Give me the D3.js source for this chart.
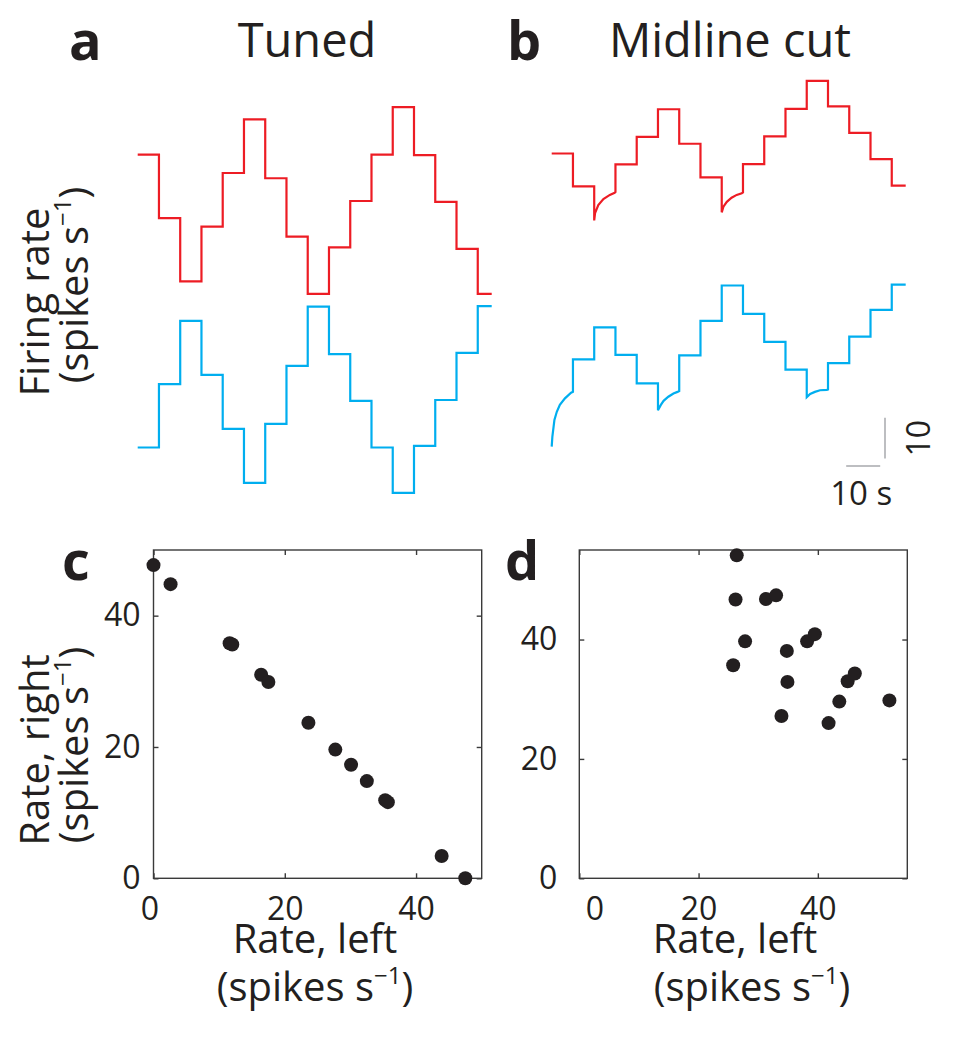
<!DOCTYPE html>
<html><head><meta charset="utf-8">
<script src="https://cdn.jsdelivr.net/npm/d3@7"></script>
<style>
body{margin:0;background:#fff}
svg{display:block}
text{font-family:"Open Sans","Noto Sans",sans-serif;fill:#231f20}
</style>
</head><body>
<svg id="chart" width="957" height="1050"></svg>
<script>
// ---------- data ----------
const stepTimes = [0, 6.25, 12.5, 18.75, 25, 31.25, 37.5, 43.75, 50, 56.25, 62.5, 68.75, 75, 81.25, 87.5, 93.75, 100];
const traceEnd = 104.1;
// panel a (tuned) step levels, spikes/s
const tunedRight = [34.8, 19.2, 3.6, 17.1, 30.3, 43.5, 29.0, 14.6, 0.5, 12.0, 23.4, 34.8, 46.5, 34.7, 23.2, 11.6, 0.5];
const tunedLeft  = [11.7, 27.3, 42.9, 29.6, 16.3, 3.0, 17.5, 31.8, 46.4, 34.7, 23.2, 11.7, 0.5, 12.1, 23.4, 35.0, 46.5];
// panel b (midline cut) step levels
const cutRight = [35.1, 27.0, 25.6, 32.4, 39.2, 46.0, 37.5, 29.2, 25.5, 32.5, 39.3, 46.1, 53.0, 46.7, 40.2, 33.7, 27.2];
const cutLeft  = [25.4, 33.4, 41.3, 34.5, 27.5, 25.6, 34.4, 42.9, 51.6, 44.6, 37.7, 30.9, 26.0, 32.5, 39.0, 45.6, 51.8];
// transient dips [time s, rate], keyed by step index
const cutRightDips = {
  2: [[12.5, 18.6], [12.75, 20.4], [13.7, 22.4], [15.2, 23.9], [17.1, 24.9], [18.5, 25.4]],
  8: [[50, 20.6], [50.5, 22.0], [51.5, 23.2], [52.9, 24.2], [54.4, 24.9], [55.9, 25.3]]
};
const cutLeftDips = {
  0: [[0, 11.9], [0.2, 14.4], [0.8, 18.5], [1.5, 20.5], [2.4, 22.2], [3.9, 23.8], [5.7, 25.2]],
  5: [[31.25, 20.9], [32.1, 22.2], [32.9, 23.2], [34.3, 24.2], [35.8, 25.0], [37.0, 25.4]],
  12: [[75, 24.1], [76, 24.9], [77.4, 25.4], [78.9, 25.8], [80.9, 25.9]]
};
// scale bar values
const scaleBarSeconds = 10;
const scaleBarRate = 10;
// panel c (tuned) scatter: [rate left, rate right]
const tunedLeftRate  = [0, 2.6, 11.6, 12.0, 16.4, 17.5, 23.6, 27.7, 30.1, 32.5, 35.3, 35.7, 43.9, 47.5];
const tunedRightRate = [47.7, 44.8, 35.8, 35.6, 31.0, 29.9, 23.7, 19.6, 17.3, 14.8, 11.9, 11.6, 3.4, 0];
// panel d (midline cut) scatter
const cutLeftRate  = [26.4, 26.2, 31.3, 33.0, 27.8, 34.8, 38.2, 39.5, 25.8, 34.9, 45.0, 46.2, 43.6, 52.0, 33.9, 41.8];
const cutRightRate = [54.1, 46.7, 46.8, 47.4, 39.7, 38.1, 39.7, 40.9, 35.7, 32.9, 33.0, 34.3, 29.6, 29.8, 27.2, 26.0];
const axisTicks = [0, 20, 40];
const panelLetters = ["a", "b", "c", "d"];
const panelTitles = ["Tuned", "Midline cut"];

// ---------- drawing ----------
const svg = d3.select("#chart");
const RED = "#ed1c24", BLUE = "#00aeef", INK = "#231f20";

const xA = d3.scaleLinear().domain([0, traceEnd]).range([137.7, 491.7]);
const xB = d3.scaleLinear().domain([0, traceEnd]).range([551.7, 905.7]);
const yRed = d3.scaleLinear().domain([0, 50]).range([296, 93]);
const yBlue = d3.scaleLinear().domain([0, 50]).range([495, 292]);

function stepPoints(levels, dips) {
  const pts = [];
  levels.forEach((v, k) => {
    const s = stepTimes[k];
    const e = k + 1 < stepTimes.length ? stepTimes[k + 1] : traceEnd;
    if (dips && dips[k]) { dips[k].forEach(p => pts.push(p)); pts.push([e, v]); }
    else { pts.push([s, v]); pts.push([e, v]); }
  });
  return pts;
}
function trace(x, y, levels, dips, color) {
  const line = d3.line().x(d => x(d[0])).y(d => y(d[1]));
  svg.append("path").attr("d", line(stepPoints(levels, dips)))
    .attr("fill", "none").attr("stroke", color).attr("stroke-width", 2.2)
    .attr("stroke-linejoin", "miter").attr("stroke-linecap", "butt");
}
trace(xA, yRed, tunedRight, null, RED);
trace(xA, yBlue, tunedLeft, null, BLUE);
trace(xB, yRed, cutRight, cutRightDips, RED);
trace(xB, yBlue, cutLeft, cutLeftDips, BLUE);

// scale bars
const sbT0 = 86.6, sbR0 = 9.0;
svg.append("line").attr("x1", xB(sbT0)).attr("x2", xB(sbT0 + scaleBarSeconds))
  .attr("y1", 466).attr("y2", 466).attr("stroke", "#a7a9ac").attr("stroke-width", 1.5);
svg.append("line").attr("x1", 885).attr("x2", 885)
  .attr("y1", yBlue(sbR0)).attr("y2", yBlue(sbR0 + scaleBarRate)).attr("stroke", "#a7a9ac").attr("stroke-width", 1.5);
svg.append("text").attr("x", xB(sbT0 + scaleBarSeconds / 2) - 2).attr("y", 505)
  .attr("text-anchor", "middle").attr("font-size", 33).text(scaleBarSeconds + " s");
svg.append("text").attr("transform", `translate(930,${yBlue(sbR0 + scaleBarRate / 2)}) rotate(-90)`)
  .attr("text-anchor", "middle").attr("font-size", 32).text(String(scaleBarRate));

// helpers for labels with superscript
function spikesLabel(sel) {
  sel.append("tspan").text("(spikes s");
  sel.append("tspan").attr("font-size", "0.6em").attr("dy", "-0.7em").text("\u22121");
  sel.append("tspan").attr("dy", "0.42em").text(")");
}

// titles
svg.append("text").attr("x", 69).attr("y", 60).attr("font-size", 54).attr("font-weight", 700).text(panelLetters[0]);
svg.append("text").attr("x", 507).attr("y", 60).attr("font-size", 54).attr("font-weight", 700).text(panelLetters[1]);
svg.append("text").attr("x", 307).attr("y", 57).attr("text-anchor", "middle").attr("font-size", 47).text(panelTitles[0]);
svg.append("text").attr("x", 730).attr("y", 57).attr("text-anchor", "middle").attr("font-size", 47).text(panelTitles[1]);

// firing rate label
svg.append("text").attr("transform", "translate(49,302) rotate(-90)").attr("text-anchor", "middle")
  .attr("font-size", 40).text("Firing rate");
spikesLabel(svg.append("text").attr("transform", "translate(88,285) rotate(-90)").attr("text-anchor", "middle")
  .attr("font-size", 40));

// scatter panels
function scatterPanel(box, xMax, yMax, xs, ys, opts) {
  const x = d3.scaleLinear().domain([0, xMax]).range([box.l, box.r]);
  const y = d3.scaleLinear().domain([0, yMax]).range([box.b, box.t]);
  const g = svg.append("g");
  g.append("rect").attr("x", box.l).attr("y", box.t).attr("width", box.r - box.l).attr("height", box.b - box.t)
    .attr("fill", "none").attr("stroke", "#3a3a3a").attr("stroke-width", 1.4);
  const tk = 5;
  const ax = g.append("g").attr("transform", `translate(0,${box.b})`)
    .call(d3.axisBottom(x).tickValues(axisTicks).tickSizeInner(-tk).tickSizeOuter(0).tickPadding(opts.xPad).tickFormat(d3.format("d")));
  const ay = g.append("g").attr("transform", `translate(${box.l},0)`)
    .call(d3.axisLeft(y).tickValues(axisTicks).tickSizeInner(-tk).tickSizeOuter(0).tickPadding(opts.yPad).tickFormat(d3.format("d")));
  const at = g.append("g").attr("transform", `translate(0,${box.t})`)
    .call(d3.axisTop(x).tickValues(axisTicks).tickSizeInner(-tk).tickSizeOuter(0).tickFormat(""));
  const ar = g.append("g").attr("transform", `translate(${box.r},0)`)
    .call(d3.axisRight(y).tickValues(axisTicks).tickSizeInner(-tk).tickSizeOuter(0).tickFormat(""));
  [ax, ay, at, ar].forEach(a => {
    a.select(".domain").remove();
    a.selectAll("line").attr("stroke", "#3a3a3a").attr("stroke-width", 1.4);
    a.selectAll("text").attr("font-size", 32).attr("font-family", '"Open Sans","Noto Sans",sans-serif').attr("fill", INK);
  });
  if (opts.zeroShift) ax.selectAll(".tick").filter(d => d === 0).select("text").attr("dx", opts.zeroShift);
  g.selectAll("circle.pt").data(xs.map((v, i) => [v, ys[i]])).join("circle").attr("class", "pt")
    .attr("cx", d => x(d[0])).attr("cy", d => y(d[1])).attr("r", 7).attr("fill", INK);
}
scatterPanel({l: 153.5, r: 481.7, t: 550, b: 878.3}, 50, 50, tunedLeftRate, tunedRightRate, {xPad: 19, yPad: 13, zeroShift: -4});
scatterPanel({l: 579.3, r: 907.3, t: 550, b: 878.3}, 55, 55, cutLeftRate, cutRightRate, {xPad: 19, yPad: 22, zeroShift: 15});

svg.append("text").attr("x", 62).attr("y", 580).attr("font-size", 54).attr("font-weight", 700).text(panelLetters[2]);
svg.append("text").attr("x", 505).attr("y", 580).attr("font-size", 54).attr("font-weight", 700).text(panelLetters[3]);

// scatter axis titles
svg.append("text").attr("transform", "translate(49,750) rotate(-90)").attr("text-anchor", "middle")
  .attr("font-size", 40).text("Rate, right");
spikesLabel(svg.append("text").attr("transform", "translate(88,745) rotate(-90)").attr("text-anchor", "middle").attr("font-size", 40));
svg.append("text").attr("x", 315).attr("y", 953).attr("text-anchor", "middle").attr("font-size", 40).text("Rate, left");
spikesLabel(svg.append("text").attr("x", 315).attr("y", 1001).attr("text-anchor", "middle").attr("font-size", 40));
svg.append("text").attr("x", 735).attr("y", 953).attr("text-anchor", "middle").attr("font-size", 40).text("Rate, left");
spikesLabel(svg.append("text").attr("x", 752).attr("y", 1001).attr("text-anchor", "middle").attr("font-size", 40));
</script>
</body></html>
